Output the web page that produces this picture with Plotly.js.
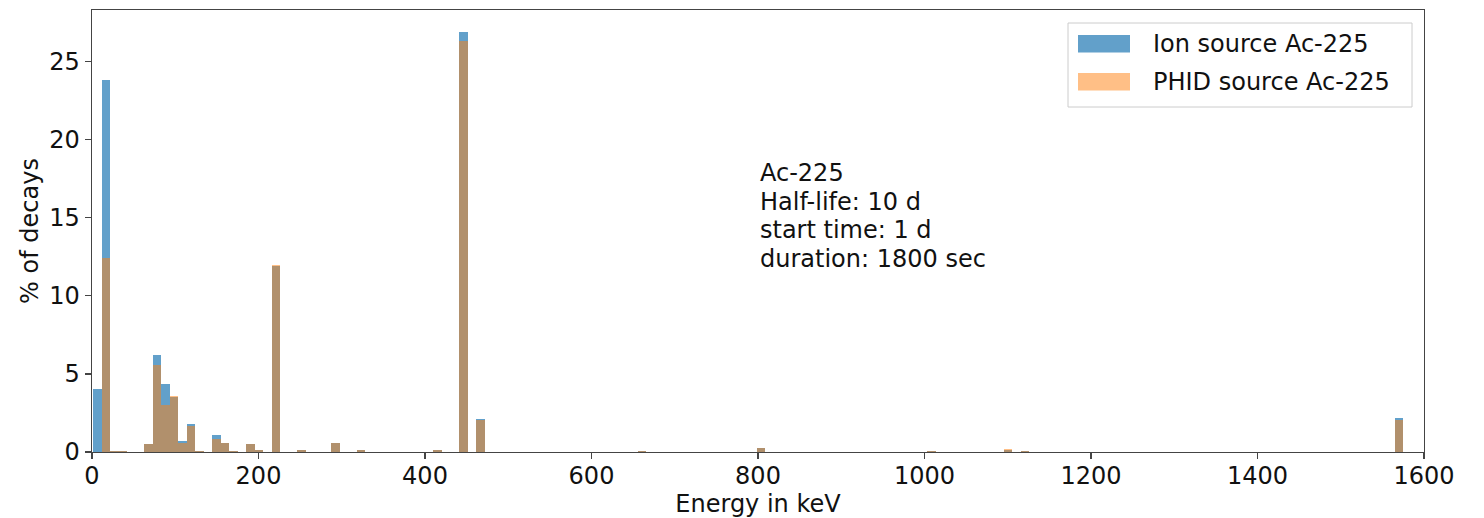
<!DOCTYPE html>
<html>
<head>
<meta charset="utf-8">
<script src="https://cdn.plot.ly/plotly-3.0.1.min.js"></script>
<style>html,body{margin:0;padding:0;background:#fff;}#chart{width:1484px;height:518px;}</style>
</head>
<body>
<div id="chart"></div>
<script>
// Histogram bin centres (keV) and bar heights (% of decays)
const energyKeV = [6.5, 16.7, 26.9, 37.1, 67.8, 78.0, 88.2, 98.5, 108.7, 118.9, 129.1, 149.6, 159.8, 170.0, 190.5, 200.7, 221.1, 251.8, 292.7, 323.3, 415.3, 446.0, 456.2, 466.4, 527.7, 660.6, 803.7, 1008.2, 1100.1, 1120.5, 1570.2];
const ionSource  = [4.05, 23.8, 0.04, 0.04, 0.5, 6.2, 4.35, 3.55, 0.72, 1.8, 0.05, 1.09, 0.6, 0.05, 0.5, 0.15, 11.9, 0.1, 0.55, 0.15, 0.1, 26.9, 0.03, 2.1, 0.03, 0.05, 0.25, 0.05, 0.15, 0.05, 2.16];
const phidSource = [0, 12.45, 0.04, 0.04, 0.5, 5.6, 3.0, 3.58, 0.55, 1.67, 0.05, 0.81, 0.6, 0.05, 0.52, 0.15, 12.0, 0.1, 0.55, 0.15, 0.1, 26.3, 0.03, 2.05, 0.03, 0.05, 0.24, 0.05, 0.22, 0.05, 2.05];
const seriesNames = ["Ion source Ac-225", "PHID source Ac-225"];
const infoLines = ["Ac-225", "Half-life: 10 d", "start time: 1 d", "duration: 1800 sec"];
const xTicks = [0, 200, 400, 600, 800, 1000, 1200, 1400, 1600];
const yTicks = [0, 5, 10, 15, 20, 25];

const BIN_W = 10.22;
const BLUE = "rgba(31,119,180,0.7)";
const ORANGE = "rgba(255,127,14,0.5)";
const FONT = "DejaVu Sans";

// plot area in pixels
const L = 92, R = 1424, T = 10, B = 452;
const px2x = p => (p - L) / (R - L);
const px2y = p => (B - p) / (B - T);

const traces = [
  {type: "bar", x: energyKeV, y: ionSource, width: BIN_W, name: seriesNames[0],
   marker: {color: BLUE, line: {width: 0}}, showlegend: false},
  {type: "bar", x: energyKeV, y: phidSource, width: BIN_W, name: seriesNames[1],
   marker: {color: ORANGE, line: {width: 0}}, showlegend: false}
];

const annotations = infoLines.map((t, i) => ({
  xref: "x", yref: "paper", x: 800, y: px2y(173 + i * 28.5),
  xanchor: "left", yanchor: "middle", text: t, showarrow: false,
  font: {family: FONT, size: 24, color: "#111"}
}));
// custom legend texts
annotations.push({xref: "paper", yref: "paper", x: px2x(1151), y: px2y(44), xanchor: "left", yanchor: "middle",
  text: seriesNames[0], showarrow: false, font: {family: FONT, size: 24, color: "#111"}});
annotations.push({xref: "paper", yref: "paper", x: px2x(1151), y: px2y(82), xanchor: "left", yanchor: "middle",
  text: seriesNames[1], showarrow: false, font: {family: FONT, size: 24, color: "#111"}});

const shapes = [
  {type: "rect", xref: "paper", yref: "paper", x0: px2x(1068), x1: px2x(1412), y0: px2y(107), y1: px2y(23),
   line: {color: "#cccccc", width: 1}, fillcolor: "rgba(255,255,255,0.8)", layer: "above"},
  {type: "rect", xref: "paper", yref: "paper", x0: px2x(1078), x1: px2x(1130), y0: px2y(52.5), y1: px2y(35),
   line: {width: 0}, fillcolor: BLUE, layer: "above"},
  {type: "rect", xref: "paper", yref: "paper", x0: px2x(1078), x1: px2x(1130), y0: px2y(90.5), y1: px2y(73),
   line: {width: 0}, fillcolor: ORANGE, layer: "above"}
];

const axisCommon = {
  showgrid: false, zeroline: false, showline: true, mirror: true,
  linecolor: "#444", linewidth: 1.3, ticks: "outside", ticklen: 6, tickwidth: 1.3, tickcolor: "#444",
  tickfont: {family: FONT, size: 24, color: "#111"}, automargin: false
};

const layout = {
  width: 1484, height: 518,
  margin: {l: L, r: 1484 - R, t: T, b: 518 - B},
  paper_bgcolor: "#fff", plot_bgcolor: "#fff",
  barmode: "overlay", bargap: 0,
  showlegend: false,
  font: {family: FONT, size: 24, color: "#111"},
  xaxis: Object.assign({}, axisCommon, {
    range: [0, 1600], tickvals: xTicks, ticktext: xTicks.map(String),
    ticklabelstandoff: -4,
    title: {text: "Energy in keV", font: {family: FONT, size: 24, color: "#111"}, standoff: 12}
  }),
  yaxis: Object.assign({}, axisCommon, {
    range: [0, 28.3], tickvals: yTicks, ticktext: yTicks.map(String),
    title: {text: "% of decays", font: {family: FONT, size: 24, color: "#111"}, standoff: 4}
  }),
  annotations: annotations,
  shapes: shapes
};

Plotly.newPlot("chart", traces, layout, {staticPlot: true, displayModeBar: false});
</script>
</body>
</html>
